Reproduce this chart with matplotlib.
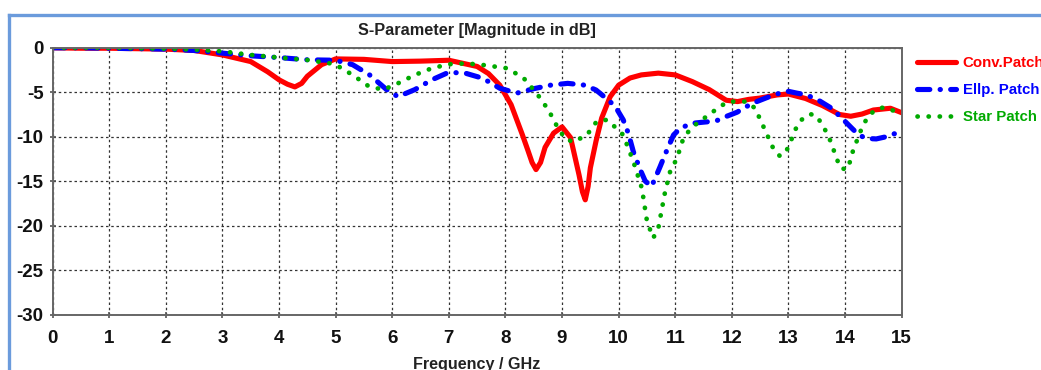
import matplotlib
matplotlib.use("Agg")
from matplotlib import pyplot as plt
from matplotlib.lines import Line2D

# frequency (GHz) / magnitude (dB)
f_conv = [0, 0.5, 1.0, 1.5, 2.0, 2.5, 3.0, 3.5, 3.8, 4.0, 4.15, 4.28, 4.4, 4.5,
          4.75, 5.0, 5.5, 6.0, 6.5, 7.0, 7.5, 7.7, 7.9, 8.1, 8.3, 8.4, 8.47,
          8.54, 8.62, 8.7, 8.85, 9.0, 9.15, 9.3, 9.36, 9.41, 9.46, 9.5, 9.6,
          9.7, 9.85, 10.0, 10.2, 10.4, 10.7, 11.0, 11.3, 11.6, 11.9, 12.1,
          12.3, 12.5, 12.8, 13.0, 13.3, 13.6, 13.9, 14.1, 14.3, 14.5, 14.8, 15.0]
s_conv = [0, -0.05, -0.05, -0.1, -0.15, -0.3, -0.8, -1.55, -2.7, -3.6, -4.1,
          -4.4, -4.0, -3.2, -1.9, -1.25, -1.3, -1.55, -1.5, -1.4, -2.1, -2.9,
          -4.2, -6.4, -9.8, -11.6, -12.9, -13.7, -12.9, -11.2, -9.6, -8.9,
          -10.1, -14.3, -16.2, -17.1, -15.6, -13.5, -10.5, -7.9, -5.5, -4.2,
          -3.4, -3.05, -2.85, -3.05, -3.8, -4.7, -5.9, -6.05, -5.8, -5.65,
          -5.3, -5.2, -5.7, -6.5, -7.5, -7.7, -7.45, -7.0, -6.8, -7.3]

f_ellp = [0, 0.5, 1.0, 1.5, 2.0, 2.5, 3.0, 3.5, 4.0, 4.5, 5.0, 5.3, 5.6, 5.9,
          6.1, 6.4, 6.7, 7.0, 7.3, 7.6, 7.9, 8.2, 8.5, 8.8, 9.1, 9.4, 9.6,
          9.82, 9.94, 10.08, 10.17, 10.26, 10.38, 10.47, 10.58, 10.67, 10.73,
          10.82, 10.88, 10.97, 11.09, 11.29, 11.44, 11.61, 11.73, 11.91, 12.09,
          12.26, 12.44, 12.62, 12.79, 13.0, 13.15, 13.32, 13.53, 13.76, 13.94,
          14.12, 14.24, 14.38, 14.55, 14.73, 14.9, 15.0]
s_ellp = [0, 0, -0.05, -0.1, -0.15, -0.3, -0.6, -0.9, -1.1, -1.35, -1.4, -1.9,
          -3.05, -4.7, -5.5, -4.7, -3.6, -2.75, -2.87, -3.43, -4.55, -5.1,
          -4.6, -4.2, -4.0, -4.2, -4.75, -5.9, -6.6, -8.1, -9.6, -11.7, -13.7,
          -15.0, -15.6, -14.3, -13.4, -12.0, -11.1, -9.8, -9.05, -8.5, -8.4,
          -8.3, -8.2, -7.7, -7.25, -6.6, -6.05, -5.6, -5.2, -4.9, -5.1, -5.3,
          -5.9, -6.8, -7.9, -9.05, -9.8, -10.2, -10.25, -10.0, -9.6, -9.5]

f_star = [0, 0.5, 1.0, 1.5, 2.0, 2.5, 3.0, 3.5, 4.0, 4.5, 4.9, 5.0, 5.3, 5.6,
          5.85, 6.1, 6.4, 6.7, 7.0, 7.3, 7.6, 8.03, 8.32, 8.55, 8.76, 8.9,
          9.05, 9.2, 9.44, 9.61, 9.79, 9.9, 10.08, 10.26, 10.41, 10.5, 10.61,
          10.7, 10.82, 10.91, 11.0, 11.09, 11.14, 11.26, 11.4, 11.56, 11.79,
          11.94, 12.11, 12.26, 12.41, 12.56, 12.73, 12.85, 12.97, 13.06, 13.12,
          13.23, 13.38, 13.5, 13.7, 13.85, 13.91, 14.03, 14.1, 14.15, 14.24,
          14.3, 14.41, 14.53, 14.68, 14.83, 15.0]
s_star = [0, 0, 0, -0.05, -0.1, -0.2, -0.4, -0.8, -1.1, -1.37, -1.75, -1.9,
          -3.05, -4.4, -4.7, -4.0, -3.05, -2.3, -1.85, -1.75, -1.93, -2.3,
          -3.4, -5.1, -7.0, -8.7, -10.2, -10.6, -9.8, -8.3, -8.1, -8.7, -9.8,
          -12.8, -15.8, -19.5, -21.4, -20.3, -16.2, -13.9, -12.8, -11.3,
          -10.2, -9.2, -8.4, -7.7, -6.6, -6.05, -6.05, -6.05, -6.8, -8.9,
          -11.3, -12.2, -11.5, -10.2, -9.2, -8.1, -7.45, -7.66, -9.8, -12.4,
          -13.5, -13.7, -12.6, -11.3, -10.0, -8.9, -7.7, -7.0, -6.7, -7.0, -7.6]

labels = ["Conv.Patch", "Ellp. Patch", "Star Patch"]
xticks = list(range(0, 16))
yticks = [0, -5, -10, -15, -20, -25, -30]

plt.rcParams['font.family'] = ['Liberation Sans', 'DejaVu Sans']
plt.rcParams['font.weight'] = 'bold'

W, H = 1041, 370
fig = plt.figure(figsize=(W / 100, H / 100), dpi=100)
ax = fig.add_axes([52.6 / W, 1 - 314.5 / H, (901.7 - 52.6) / W, (314.5 - 47.8) / H])

# blue frame around the picture
frame_col = "#6b9bdc"
fig.add_artist(Line2D([9 / W, 1.0], [1 - 15 / H, 1 - 15 / H], color=frame_col, lw=2.4,
                      transform=fig.transFigure))
fig.add_artist(Line2D([9 / W, 9 / W], [1 - 15 / H, 0], color=frame_col, lw=2.4,
                      transform=fig.transFigure))

l1, = ax.plot(f_conv, s_conv, color="#ff0000", lw=3.7, solid_capstyle='round',
              solid_joinstyle='round', label=labels[0])
l2, = ax.plot(f_ellp, s_ellp, color="#0000ff", lw=3.7, dash_capstyle='round',
              linestyle=(0, (2.4, 2.0, 0.05, 2.0)), label=labels[1])
l3, = ax.plot(f_star, s_star, color="#00aa00", lw=3.4, dash_capstyle='round',
              linestyle=(0, (0.05, 2.3)), label=labels[2])

ax.set_xlim(0, 15)
ax.set_ylim(-30, 0)
ax.set_xticks(xticks)
ax.set_yticks(yticks)
ax.set_xticklabels([str(t) for t in xticks])
ax.set_yticklabels([str(t) for t in yticks])
ax.grid(True, color="#333333", lw=0.9, linestyle=(0, (2, 2.2)))
ax.set_axisbelow(True)
for s in ax.spines.values():
    s.set_color("#666666")
    s.set_linewidth(1.4)
ax.tick_params(direction='inout', length=5, width=1.2, color="#555555",
               labelsize=13.5, labelcolor="#111111")
ax.tick_params(axis='x', pad=9)
ax.tick_params(axis='y', pad=4)

fig.text(477 / W, 1 - 31 / H, "S-Parameter [Magnitude in dB]", ha='center', va='center',
         fontsize=11.7, fontweight='bold', color="#222222")
fig.text(477 / W, 1 - 357 / H, "Frequency / GHz", ha='center', va='top',
         fontsize=11.6, fontweight='bold', color="#222222")

leg = fig.legend(handles=[l1, l2, l3], loc='upper left',
                 bbox_to_anchor=(917 / W, 1 - 56 / H), bbox_transform=fig.transFigure,
                 frameon=False, fontsize=10.8, handlelength=2.6, handletextpad=0.45,
                 labelspacing=0.87, borderpad=0, borderaxespad=0)
for txt, ln in zip(leg.get_texts(), [l1, l2, l3]):
    txt.set_color(ln.get_color())
    txt.set_fontweight('bold')

fig.savefig("out.png", dpi=100, facecolor="white")
